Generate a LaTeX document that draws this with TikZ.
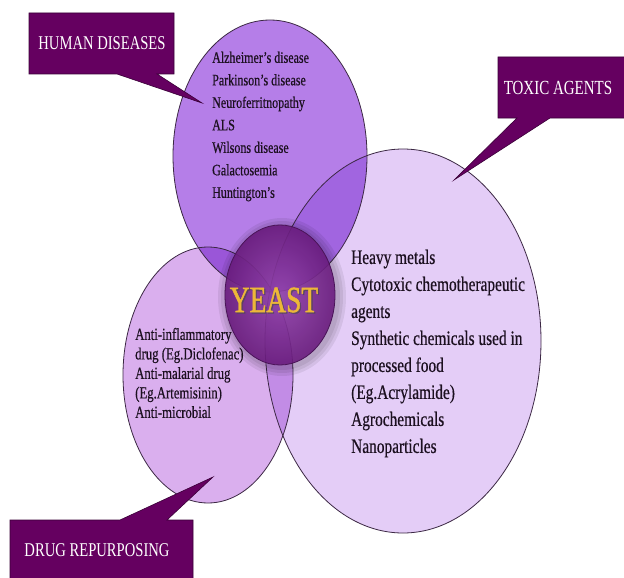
\documentclass[tikz,border=0pt]{standalone}
\usepackage{fontspec}
\setmainfont{Liberation Serif}[FakeStretch=0.75]
\newfontfamily\listfont{Liberation Serif}[FakeStretch=0.75, FakeBold=0.5]
\newfontfamily\titlefont{Liberation Serif}[FakeStretch=0.74, FakeBold=1.2]
\definecolor{topfill}{HTML}{B57EE8}
\definecolor{rightfill}{HTML}{E4CDF7}
\definecolor{leftfill}{HTML}{DAAFEE}
\definecolor{ringline}{HTML}{3C2844}
\definecolor{yeastin}{HTML}{9444AE}
\definecolor{yeastout}{HTML}{6A1C7E}
\definecolor{yeastgold}{HTML}{EDB738}
\definecolor{calloutfill}{HTML}{650060}
\definecolor{calloutline}{HTML}{3A0038}
\definecolor{listtext}{HTML}{1C1020}
\begin{document}
\begin{tikzpicture}[x=1pt,y=-1pt,
  ring/.style={draw=ringline, line width=0.8pt},
  callout/.style={fill=calloutfill, draw=calloutline, line width=0.6pt},
  calltext/.style={text=white, inner sep=0pt},
  itemlist/.style={align=left, anchor=west, inner sep=0pt, text=listtext},
]
\useasboundingbox (0,0) rectangle (624,578);
\fill[white] (0,0) rectangle (624,578);

% overlapping circles, multiplied where they meet
\begin{scope}[blend group=multiply]
  \fill[topfill]   (270,156) ellipse [x radius=97,  y radius=136];
  \fill[rightfill] (403,341) ellipse [x radius=138, y radius=192];
  \fill[leftfill]  (208,375) ellipse [x radius=85,  y radius=128];
\end{scope}
\draw[ring] (270,156) ellipse [x radius=97,  y radius=136];
\draw[ring] (403,341) ellipse [x radius=138, y radius=192];
\draw[ring] (208,375) ellipse [x radius=85,  y radius=128];

% soft halo and body of the central disc
\foreach \g in {9,6,3}
  \fill[black, opacity=0.07] (282,297) ellipse [x radius=55+\g, y radius=70+\g];
\shade[inner color=yeastin, outer color=yeastout, opacity=0.9]
  (280,295) ellipse [x radius=55, y radius=70];
\draw[draw=yeastout!70!black, line width=0.8pt] (280,295) ellipse [x radius=55, y radius=70];

% callouts
\draw[callout] (29,13) -- (174,13) -- (174,74) -- (157,74) -- (202,103)
  -- (117,74) -- (29,74) -- cycle;
\draw[callout] (498,57) -- (628,57) -- (628,118) -- (550,118) -- (454,180)
  -- (517,118) -- (498,118) -- cycle;
\draw[callout] (10,520) -- (120,520) -- (213,477) -- (167,520) -- (193,520)
  -- (193,582) -- (10,582) -- cycle;

\node[calltext, font=\fontsize{19.5}{22}\selectfont] (hd) at (102,43.5) {HUMAN DISEASES};
\node[calltext, font=\fontsize{20}{22}\selectfont] (ta) at (558,88) {TOXIC AGENTS};
\node[calltext, font=\fontsize{19.5}{22}\selectfont] (dr) at (97,550) {DRUG REPURPOSING};

\node[text=black!70, inner sep=0pt, font=\titlefont\fontsize{37}{40}\selectfont, opacity=0.6]
  at (275.3,301.3) {YEAST};
\node[text=yeastgold, inner sep=0pt, font=\titlefont\fontsize{37}{40}\selectfont] (yeast)
  at (274,300) {YEAST};

\node[itemlist, font=\listfont\fontsize{16}{22.5}\selectfont] (hum) at (212,126.5)
  {Alzheimer’s disease\\Parkinson’s disease\\Neuroferritnopathy\\ALS\\Wilsons disease\\Galactosemia\\Huntington’s};
\node[itemlist, font=\listfont\fontsize{20.5}{27}\selectfont] (tox) at (351,353.5)
  {Heavy metals\\Cytotoxic chemotherapeutic\\agents\\Synthetic chemicals used in\\processed food\\(Eg.Acrylamide)\\Agrochemicals\\Nanoparticles};
\node[itemlist, font=\listfont\fontsize{17}{19.5}\selectfont] (drug) at (135,373)
  {Anti-inflammatory\\drug (Eg.Diclofenac)\\Anti-malarial drug\\(Eg.Artemisinin)\\Anti-microbial};
\end{tikzpicture}
\end{document}
